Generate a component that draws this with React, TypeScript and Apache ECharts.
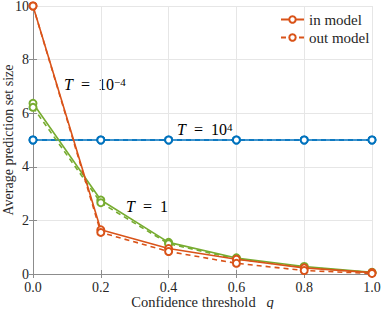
import React, { useEffect, useRef } from "react";
import * as echarts from "echarts";

const qValues = [0, 0.2, 0.4, 0.6, 0.8, 1.0];
const xTickLabels = ["0.0", "0.2", "0.4", "0.6", "0.8", "1.0"];
const yTicks = [0, 2, 4, 6, 8, 10];

// T = 1e-4 (orange)
const inModelTsmall = [10, 1.65, 0.95, 0.55, 0.23, 0.05];
const outModelTsmall = [10, 1.55, 0.84, 0.4, 0.13, 0.02];
// T = 1 (green)
const inModelTone = [6.37, 2.76, 1.18, 0.6, 0.28, 0.06];
const outModelTone = [6.22, 2.66, 1.13, 0.56, 0.25, 0.05];
// T = 1e4 (blue)
const inModelTbig = [5, 5, 5, 5, 5, 5];
const outModelTbig = [5, 5, 5, 5, 5, 5];

const ORANGE = "#D95319";
const GREEN = "#77AC30";
const BLUE = "#0072BD";
const FONT = "Liberation Serif";
const TXT = "#262626";

function mk(name: string, vals: number[], color: string, dashed: boolean, z: number) {
  return {
    name,
    type: "line",
    data: qValues.map((q, i) => [q, vals[i]]),
    symbol: "emptyCircle",
    symbolSize: 7,
    showSymbol: true,
    z,
    lineStyle: { color, width: 1.6, type: dashed ? [5, 4] : "solid" },
    itemStyle: { color, borderColor: color, borderWidth: 1.5 },
  };
}

function legendFor(name: string, top: number) {
  return {
    data: [name],
    orient: "vertical",
    left: 280,
    top,
    padding: 0,
    itemWidth: 23,
    itemHeight: 8,
    itemGap: 0,
    textStyle: { fontFamily: FONT, fontSize: 15, color: TXT },
  };
}

export default function App() {
  const ref = useRef<HTMLDivElement>(null);
  useEffect(() => {
    if (!ref.current) return;
    const chart = echarts.init(ref.current, null, { renderer: "svg" });
    const rich = {
      it: { fontFamily: FONT, fontStyle: "italic", fontSize: 16, color: TXT },
      n: { fontFamily: FONT, fontSize: 16, color: TXT },
      sup: { fontFamily: FONT, fontSize: 11, color: TXT, verticalAlign: "top" },
    };
    chart.setOption({
      animation: false,
      backgroundColor: "#ffffff",
      textStyle: { fontFamily: FONT, color: TXT },
      grid: { left: 33, right: 10, top: 6, bottom: 35, outerBoundsMode: "none", containLabel: false },
      legend: [legendFor("in model", 12), legendFor("out model", 30)],
      xAxis: [
        {
          type: "value",
          min: 0,
          max: 1,
          interval: 0.2,
          name: "Confidence threshold   {q|q}",
          nameLocation: "middle",
          nameGap: 20,
          nameMoveOverlap: false,
          nameTextStyle: {
            fontFamily: FONT,
            fontSize: 14.5,
            color: TXT,
            rich: { q: { fontFamily: FONT, fontStyle: "italic", fontSize: 14.5, color: TXT } },
          },
          axisLine: { show: true, lineStyle: { color: "#8c8c8c", width: 1 } },
          axisTick: { show: true, inside: true, length: 4, lineStyle: { color: "#8c8c8c" } },
          axisLabel: {
            fontFamily: FONT,
            fontSize: 14,
            color: TXT,
            margin: 6,
            formatter: (v: number) => xTickLabels[Math.round(v / 0.2)] ?? "",
          },
          splitLine: { show: true, lineStyle: { color: "#e6e6e6", width: 1 } },
        },
        {
          type: "value",
          position: "top",
          min: 0,
          max: 1,
          interval: 0.2,
          axisLine: { show: true, lineStyle: { color: "#8c8c8c", width: 1 } },
          axisTick: { show: true, inside: true, length: 4, lineStyle: { color: "#8c8c8c" } },
          axisLabel: { show: false },
          splitLine: { show: false },
        },
      ],
      yAxis: [
        {
          type: "value",
          min: 0,
          max: 10,
          interval: 2,
          name: "Average prediction set size",
          nameLocation: "middle",
          nameGap: 18,
          nameMoveOverlap: false,
          nameTextStyle: { fontFamily: FONT, fontSize: 14, color: TXT },
          axisLine: { show: true, lineStyle: { color: "#8c8c8c", width: 1 } },
          axisTick: { show: true, inside: true, length: 4, lineStyle: { color: "#8c8c8c" } },
          axisLabel: {
            fontFamily: FONT,
            fontSize: 14,
            color: TXT,
            margin: 4,
            formatter: (v: number) => (yTicks.includes(v) ? String(v) : ""),
          },
          splitLine: { show: true, lineStyle: { color: "#e6e6e6", width: 1 } },
        },
        {
          type: "value",
          position: "right",
          min: 0,
          max: 10,
          interval: 2,
          axisLine: { show: true, lineStyle: { color: "#8c8c8c", width: 1 } },
          axisTick: { show: true, inside: true, length: 4, lineStyle: { color: "#8c8c8c" } },
          axisLabel: { show: false },
          splitLine: { show: false },
        },
      ],
      series: [
        mk("T1e4 in", inModelTbig, BLUE, false, 2),
        mk("T1e4 out", outModelTbig, BLUE, true, 2),
        mk("T1 in", inModelTone, GREEN, false, 3),
        mk("T1 out", outModelTone, GREEN, true, 3),
        mk("in model", inModelTsmall, ORANGE, false, 4),
        mk("out model", outModelTsmall, ORANGE, true, 4),
      ],
      graphic: [
        {
          type: "text",
          left: 64,
          top: 76,
          style: { text: "{it|T}{n|  =  10}{sup|−4}", rich },
        },
        {
          type: "text",
          left: 177,
          top: 121,
          style: { text: "{it|T}{n|  =  10}{sup|4}", rich },
        },
        {
          type: "text",
          left: 126,
          top: 198,
          style: { text: "{it|T}{n|  =  1}", rich },
        },
      ],
    });
    return () => chart.dispose();
  }, []);
  return (
    <div
      ref={ref}
      style={{ position: "fixed", left: 0, top: 0, width: 382, height: 309 }}
    />
  );
}
